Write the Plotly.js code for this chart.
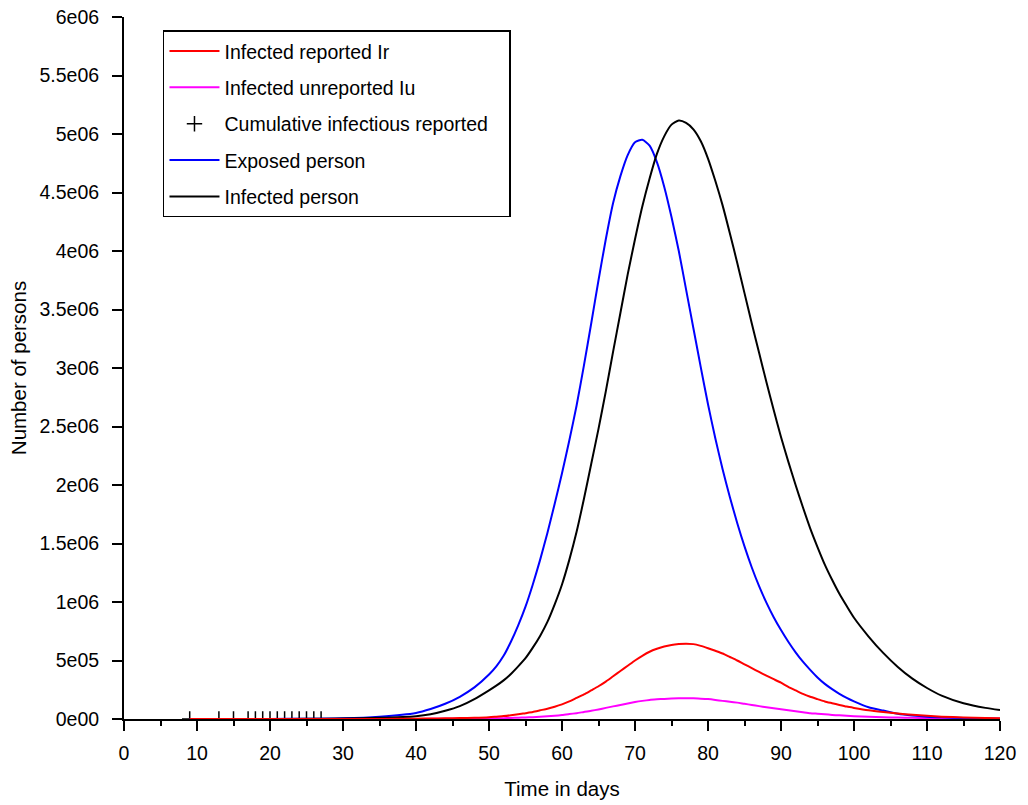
<!DOCTYPE html>
<html>
<head>
<meta charset="utf-8">
<script src="https://cdn.plot.ly/plotly-3.0.1.min.js"></script>
<style>html,body{margin:0;padding:0;background:#fff;}#chart{width:1028px;height:805px;}</style>
</head>
<body>
<div id="chart"></div>
<script>
// ---- data (values in persons) ----
const days = [9,15,20,25,30,35,40,42,44,46,48,50,51,52,53,54,55,56,57,58,59,60,61,62,63,64,65,66,67,68,69,70,71,72,73,74,75,76,77,78,79,80,81,82,83,84,85,86,87,88,89,90,91,92,93,94,95,96,97,98,99,100,102,104,106,108,110,112,115,118,120];

const exposed = [0,300,900,2500,6000,20000,52000,85000,130000,190000,270000,380000,450000,540000,660000,800000,960000,1150000,1360000,1590000,1840000,2100000,2380000,2680000,3020000,3380000,3750000,4100000,4410000,4640000,4820000,4930000,4950000,4900000,4760000,4550000,4290000,4000000,3670000,3340000,3010000,2690000,2400000,2135000,1895000,1675000,1475000,1295000,1135000,995000,870000,760000,660000,570000,490000,420000,355000,300000,255000,215000,180000,150000,100000,72000,45000,30000,20000,14000,8000,4500,3000];

const infected = [0,200,600,1500,4000,10000,24000,40000,70000,110000,170000,245000,285000,330000,385000,450000,520000,610000,710000,830000,980000,1150000,1360000,1600000,1880000,2180000,2480000,2800000,3140000,3470000,3800000,4100000,4380000,4620000,4830000,4980000,5080000,5115000,5095000,5040000,4940000,4790000,4600000,4390000,4150000,3900000,3640000,3380000,3130000,2880000,2640000,2410000,2200000,2000000,1810000,1630000,1470000,1320000,1190000,1070000,965000,865000,705000,565000,445000,345000,265000,200000,135000,95000,77000];

const reported = [0,0,0,100,300,1000,3000,4500,6000,8000,10000,15000,20000,25000,32000,40000,50000,60000,74000,88000,105000,125000,150000,180000,210000,245000,280000,320000,365000,410000,455000,500000,540000,575000,600000,620000,633000,640000,643000,640000,625000,605000,583000,560000,530000,500000,467000,435000,402000,370000,340000,310000,275000,245000,215000,190000,170000,150000,135000,120000,106000,95000,75000,60000,47000,36000,27000,20000,13000,9000,7000];

const unreported = [0,0,0,30,80,250,800,1200,1700,2300,3000,5000,6000,7000,9000,11000,13500,16000,19500,23000,28000,34000,42000,50000,60000,70000,82000,95000,108000,120000,133000,145000,155000,163000,168000,172000,175000,177000,177000,177000,174000,170000,163000,155000,148000,140000,130000,120000,110000,100000,91000,83000,75000,66000,58000,50000,45000,40000,35000,31000,27000,24000,19000,15000,12000,10000,8000,6000,4000,3000,2000];

const cumDays = [9,13,15,17,18,19,20,21,22,23,24,25,26,27];
const cumReported = [2,5,8,12,16,21,27,34,44,56,70,88,110,135];

const xTickVals = [0,10,20,30,40,50,60,70,80,90,100,110,120];
const xMinorVals = [5,15,25,35,45,55,65,75,85,95,105,115];
const yTickVals = [0,500000,1000000,1500000,2000000,2500000,3000000,3500000,4000000,4500000,5000000,5500000,6000000];
const yTickText = ['0e00','5e05','1e06','1.5e06','2e06','2.5e06','3e06','3.5e06','4e06','4.5e06','5e06','5.5e06','6e06'];

const FONT = '"Liberation Sans", Arial, sans-serif';

const traces = [
  {x: cumDays, y: cumReported, mode: 'markers', name: 'Cumulative infectious reported\u00a0\u00a0\u00a0',
   marker: {symbol: 'cross-thin-open', size: 11, color: '#000', line: {width: 1.5, color: '#000'}},
   legendgroup: 'c', legendrank: 3},
  {x: days, y: unreported, mode: 'lines', name: 'Infected unreported Iu',
   line: {color: '#ff00ff', width: 2, shape: 'spline', smoothing: 0.6}, legendgroup: 'b', legendrank: 2},
  {x: days, y: exposed, mode: 'lines', name: 'Exposed person',
   line: {color: '#0000ff', width: 2, shape: 'spline', smoothing: 0.6}, legendgroup: 'd', legendrank: 4},
  {x: days, y: infected, mode: 'lines', name: 'Infected person',
   line: {color: '#000000', width: 2, shape: 'spline', smoothing: 0.6}, legendgroup: 'e', legendrank: 5},
  {x: days, y: reported, mode: 'lines', name: 'Infected reported Ir',
   line: {color: '#ff0000', width: 2, shape: 'spline', smoothing: 0.6}, legendgroup: 'a', legendrank: 1}
];

const layout = {
  width: 1028, height: 805,
  paper_bgcolor: '#fff', plot_bgcolor: '#fff',
  margin: {l: 124, r: 28, t: 17, b: 86},
  font: {family: FONT, size: 19.5, color: '#000'},
  showlegend: true,
  legend: {x: 0.0445, y: 0.981, xanchor: 'left', yanchor: 'top',
    bordercolor: '#000', borderwidth: 1.5, bgcolor: '#fff',
    font: {family: FONT, size: 19.5, color: '#000'},
    tracegroupgap: 8, traceorder: 'grouped', itemwidth: 50},
  xaxis: {range: [0, 120], tickvals: xTickVals,
    ticks: 'outside', ticklen: 10, tickwidth: 2, tickcolor: '#000', ticklabelstandoff: 6,
    minor: {tickvals: xMinorVals, ticks: 'outside', ticklen: 5, tickwidth: 2, tickcolor: '#000'},
    showline: true, linecolor: '#000', linewidth: 2, showgrid: false, zeroline: false,
    title: {text: 'Time in days', font: {family: FONT, size: 20.5}, standoff: 18},
    tickfont: {family: FONT, size: 19.5}},
  yaxis: {range: [0, 6000000], tickvals: yTickVals, ticktext: yTickText,
    ticks: 'outside', ticklen: 10, tickwidth: 2, tickcolor: '#000', ticklabelstandoff: 9,
    showline: true, linecolor: '#000', linewidth: 2, showgrid: false, zeroline: false,
    title: {text: 'Number of persons', font: {family: FONT, size: 20.5}, standoff: 7},
    tickfont: {family: FONT, size: 19.5}}
};

Plotly.newPlot('chart', traces, layout, {displayModeBar: false, staticPlot: true});
</script>
</body>
</html>
